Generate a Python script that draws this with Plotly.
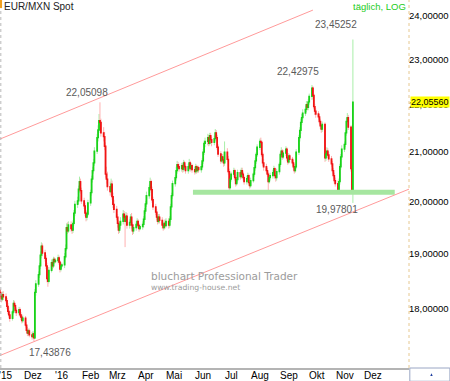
import math
import pandas as pd
import plotly.graph_objects as go

# ---------------- data ----------------
dates = pd.bdate_range("2015-10-26", "2016-11-09")

first_open = 18.34
closes = [
18.30,18.24,18.18,18.26,18.22, 18.15,18.05,17.96,17.90,17.84,
17.95,18.10,18.06,17.98,17.94, 17.99,17.90,17.86,17.80,17.84,
17.72,17.63,17.58,17.62,17.55, 17.52,17.57,17.50,18.30,18.45,
18.62,18.78,18.98,19.15,19.02, 18.92,18.78,18.55,18.50,18.70,
18.84,18.78,18.90,18.86,18.88, 18.93,18.85,18.72,18.78,18.80,
18.95,19.10,19.50,19.44,19.55, 19.48,19.45,19.58,19.78,19.95,
20.02,20.25,20.40,20.22,20.02, 19.92,19.78,19.70,19.76,19.98,
20.18,20.45,20.62,20.78,21.02, 21.30,21.46,21.66,21.62,21.40,
21.32,21.12,20.55,20.45,20.30, 20.20,20.35,20.10,19.95,19.85,
19.70,19.58,19.45,19.55,19.62, 19.76,19.70,19.62,19.72,19.55,
19.60,19.70,19.55,19.44,19.50, 19.56,19.62,19.54,19.48,19.52,
19.56,19.66,19.82,19.96,20.12, 20.28,20.40,20.24,20.04,19.90,
19.80,19.70,19.62,19.70,19.64, 19.55,19.50,19.58,19.54,19.62,
19.55,19.66,19.90,20.12,20.36, 20.48,20.62,20.74,20.70,20.66,
20.72,20.65,20.78,20.70,20.62, 20.70,20.78,20.66,20.72,20.64,
20.60,20.70,20.62,20.68,20.64, 20.70,20.82,21.00,21.18,21.22,
21.30,21.18,21.34,21.26,21.20, 21.28,21.40,21.30,21.10,20.96,
20.82,20.90,20.84,20.78,21.00, 20.85,20.60,20.28,20.45,20.55,
20.62,20.48,20.36,20.44,20.58, 20.50,20.62,20.55,20.48,20.40,
20.46,20.52,20.38,20.32,20.42, 20.55,20.68,20.82,20.95,21.10,
21.22,21.20,20.95,20.78,20.70, 20.62,20.55,20.40,20.48,20.52,
20.58,20.66,20.52,20.48,20.60, 20.75,20.95,21.02,20.90,20.98,
21.06,20.88,20.80,20.92,20.85, 20.78,20.70,20.62,20.70,21.00,
21.30,21.45,21.62,21.72,21.82, 21.90,22.00,21.94,22.06,22.18,
22.36,22.20,21.96,21.86,21.80, 21.74,21.64,21.55,21.48,21.58,
20.88,20.96,21.02,20.94,20.86, 20.76,20.62,20.52,20.42,20.36,
20.22,20.40,20.70,20.90,21.06, 21.16,21.40,21.64,21.72,21.52,
20.66,20.22,22.0556]

highs = [
18.40,18.35,18.29,18.31,18.32, 18.28,18.20,18.11,18.03,17.96,
17.99,18.16,18.15,18.10,18.03, 18.04,18.03,17.95,17.91,17.89,
17.88,17.77,17.69,17.66,17.66, 17.60,17.62,17.60,18.36,18.52,
18.68,18.84,19.05,19.22,19.20, 19.08,18.98,18.84,18.62,18.76,
18.90,18.88,18.95,18.94,18.92, 18.99,18.97,18.88,18.84,18.84,
19.02,19.18,19.58,19.60,19.62, 19.62,19.55,19.64,19.84,20.02,
20.10,20.32,20.50,20.46,20.28, 20.08,19.98,19.84,19.82,20.04,
20.24,20.52,20.70,20.86,21.10, 21.38,21.56,21.80,22.05098,21.70,
21.52,21.42,21.20,20.70,20.60, 20.40,20.46,20.42,20.18,20.04,
19.92,19.76,19.64,19.62,19.70, 19.84,19.82,19.76,19.80,19.78,
19.66,19.76,19.78,19.60,19.56, 19.62,19.68,19.66,19.58,19.56,
19.62,19.72,19.88,20.02,20.20, 20.34,20.48,20.44,20.30,20.10,
19.96,19.86,19.76,19.76,19.76, 19.70,19.60,19.64,19.66,19.68,
19.68,19.72,19.96,20.18,20.42, 20.54,20.70,20.82,20.80,20.76,
20.78,20.76,20.84,20.82,20.74, 20.76,20.86,20.82,20.78,20.76,
20.70,20.76,20.74,20.72,20.72, 20.76,20.88,21.06,21.24,21.30,
21.38,21.36,21.40,21.40,21.32, 21.34,21.48,21.46,21.36,21.16,
21.02,20.96,20.96,20.90,21.22, 21.08,20.92,20.66,20.50,20.60,
20.68,20.66,20.54,20.50,20.64, 20.64,20.68,20.68,20.60,20.52,
20.52,20.58,20.56,20.44,20.48, 20.60,20.74,20.88,21.00,21.16,
21.28,21.30,21.24,21.00,20.86, 20.76,20.68,20.60,20.54,20.58,
20.64,20.72,20.70,20.58,20.66, 20.80,21.00,21.10,21.06,21.04,
21.12,21.10,20.94,20.98,20.96, 20.90,20.84,20.76,20.76,21.06,
21.36,21.52,21.70,21.80,21.90, 21.98,22.08,22.06,22.12,22.24,
22.42975,22.40,22.24,22.02,21.92, 21.86,21.80,21.70,21.60,21.64,
21.62,21.02,21.10,21.08,21.00, 20.92,20.82,20.68,20.58,20.48,
20.42,20.46,20.76,20.96,21.14, 21.22,21.46,21.72,21.82,21.78,
21.56,20.72,23.45252]

lows = [
18.24,18.19,18.12,18.14,18.16, 18.10,18.00,17.91,17.85,17.78,
17.80,17.91,18.00,17.93,17.88, 17.89,17.86,17.81,17.75,17.76,
17.68,17.58,17.53,17.54,17.51, 17.47,17.49,17.43876,17.48,18.24,
18.40,18.56,18.72,18.92,18.96, 18.86,18.72,18.48,18.40,18.46,
18.66,18.72,18.74,18.82,18.83, 18.83,18.80,18.66,18.68,18.75,
18.74,18.90,19.06,19.38,19.40, 19.42,19.38,19.40,19.54,19.72,
19.88,19.96,20.18,20.16,19.96, 19.86,19.72,19.62,19.64,19.72,
19.92,20.12,20.38,20.56,20.72, 20.96,21.22,21.40,21.50,21.32,
21.22,21.04,20.48,20.36,20.22, 20.12,20.14,20.04,19.88,19.78,
19.64,19.50,19.38,19.40,19.48, 19.56,19.64,19.13,19.58,19.48,
19.48,19.54,19.48,19.36,19.38, 19.44,19.50,19.48,19.42,19.45,
19.46,19.50,19.60,19.76,19.90, 20.06,20.22,20.18,19.98,19.84,
19.74,19.64,19.56,19.58,19.58, 19.48,19.44,19.46,19.48,19.50,
19.48,19.50,19.60,19.84,20.06, 20.30,20.42,20.56,20.64,20.60,
20.60,20.58,20.60,20.64,20.56, 20.56,20.64,20.60,20.62,20.58,
20.54,20.56,20.56,20.58,20.58, 20.58,20.64,20.76,20.94,21.10,
21.14,21.12,21.14,21.20,21.12, 21.14,21.22,21.24,21.04,20.90,
20.76,20.78,20.78,20.70,20.72, 20.80,20.54,20.20,20.24,20.40,
20.50,20.42,20.30,20.32,20.38, 20.44,20.46,20.50,20.42,20.34,
20.34,20.40,20.32,20.26,20.28, 20.38,20.50,20.62,20.76,20.90,
21.04,21.12,20.90,20.72,20.62, 20.56,20.50,20.22,20.36,20.42,
20.46,20.52,20.46,20.40,20.42, 20.54,20.70,20.90,20.84,20.86,
20.92,20.82,20.74,20.76,20.78, 20.72,20.64,20.56,20.58,20.66,
20.94,21.22,21.38,21.56,21.66, 21.76,21.84,21.88,21.88,22.00,
22.10,22.12,21.90,21.78,21.72, 21.68,21.58,21.48,21.40,21.42,
20.80,20.82,20.90,20.88,20.80, 20.70,20.56,20.46,20.36,20.30,
20.18,20.18,20.34,20.64,20.84, 21.00,21.10,21.34,21.56,21.46,
20.60,20.18,19.97801]

opens = [first_open] + closes[:-1]

# trend channel (light red) and support line (green)
upper_dates = ["2015-10-26 12:00", "2016-09-27"]
upper_vals = [21.27, 24.14]
lower_dates = ["2015-10-26 12:00", "2017-01-08 08:00"]
lower_vals = [17.20, 20.25]
support_dates = ["2016-05-21", "2016-12-24"]
support_vals = [20.19, 20.19]

# extreme labels
extreme_dates = ["2016-02-11", "2016-09-26", "2016-11-09", "2016-11-09", "2015-12-02"]
extreme_vals = [22.05098, 22.42975, 23.45252, 19.97801, 17.43876]
extreme_text = ["22,05098", "22,42975", "23,45252", "19,97801", "17,43876"]
extreme_shift = [(-13, 10), (-14, 13), (-17, 15), (-16, -7), (16, -11)]

last_price = 22.0556
last_text = "22,05560"

month_ticks = ["2015-11-01", "2015-12-01", "2016-01-01", "2016-02-01", "2016-03-01",
               "2016-04-01", "2016-05-01", "2016-06-01", "2016-07-01", "2016-08-01",
               "2016-09-01", "2016-10-01", "2016-11-01", "2016-12-01"]
month_labels = ["'15", "Dez", "'16", "Feb", "Mrz", "Apr", "Mai", "Jun", "Jul", "Aug",
                "Sep", "Okt", "Nov", "Dez"]
y_ticks = [18, 19, 20, 21, 22, 23, 24]

x_range = ["2015-10-26 12:00", "2017-01-08 08:00"]
y_range = [16.99, 24.38]

# ---------------- figure ----------------
FONT = "Liberation Sans, Arial, sans-serif"
fig = go.Figure()

# pale wicks
fig.add_trace(go.Candlestick(
    x=dates, open=opens, high=highs, low=lows, close=closes,
    increasing=dict(line=dict(color="#a8eea8", width=1), fillcolor="#a8eea8"),
    decreasing=dict(line=dict(color="#ffb0b0", width=1), fillcolor="#ffb0b0"),
    whiskerwidth=0, hoverinfo="skip", showlegend=False))

# strong bodies
body_hi = [max(o, c) for o, c in zip(opens, closes)]
body_lo = [min(o, c) for o, c in zip(opens, closes)]
fig.add_trace(go.Candlestick(
    x=dates, open=opens, high=body_hi, low=body_lo, close=closes,
    increasing=dict(line=dict(color="#19d219", width=1.3), fillcolor="#19d219"),
    decreasing=dict(line=dict(color="#f01414", width=1.3), fillcolor="#f01414"),
    whiskerwidth=0, hoverinfo="skip", showlegend=False))

fig.add_trace(go.Scatter(x=support_dates, y=support_vals, mode="lines",
                         line=dict(color="#a6e6a0", width=5),
                         hoverinfo="skip", showlegend=False))
fig.add_trace(go.Scatter(x=upper_dates, y=upper_vals, mode="lines",
                         line=dict(color="#ff9a9a", width=1),
                         hoverinfo="skip", showlegend=False))
fig.add_trace(go.Scatter(x=lower_dates, y=lower_vals, mode="lines",
                         line=dict(color="#ff9a9a", width=1),
                         hoverinfo="skip", showlegend=False))

annotations = []
for d, v, t, (dx, dy) in zip(extreme_dates, extreme_vals, extreme_text, extreme_shift):
    annotations.append(dict(x=d, y=math.log10(v), xref="x", yref="y", text=t,
                            showarrow=False, xanchor="center", yanchor="middle",
                            xshift=dx, yshift=dy,
                            font=dict(family=FONT, size=10, color="#5a5a5a")))

# month labels placed just under the axis line
for d, t in zip(month_ticks, month_labels):
    annotations.append(dict(x=d, y=0, xref="x", yref="paper", text=t,
                            showarrow=False, xanchor="center", yanchor="top",
                            yshift=-1, borderpad=0,
                            font=dict(family=FONT, size=10, color="#000000")))

annotations.append(dict(x=1.0, y=math.log10(last_price), xref="paper", yref="y",
                        text=last_text, showarrow=False, xanchor="left", yanchor="middle",
                        xshift=1, bgcolor="#ffff00", borderpad=0,
                        font=dict(family=FONT, size=9, color="#000000")))
annotations.append(dict(x=0.006, y=1.0, xref="paper", yref="paper", text="EUR/MXN Spot",
                        showarrow=False, xanchor="left", yanchor="top", yshift=1,
                        font=dict(family=FONT, size=10, color="#222222")))
annotations.append(dict(x=0.998, y=1.0, xref="paper", yref="paper", text="täglich, LOG",
                        showarrow=False, xanchor="right", yanchor="top", yshift=1,
                        font=dict(family=FONT, size=9.5, color="#22cc22")))
annotations.append(dict(x=0.364, y=0.25, xref="paper", yref="paper",
                        text="bluchart Professional Trader", showarrow=False,
                        xanchor="left", yanchor="middle",
                        font=dict(family="DejaVu Sans, sans-serif", size=10.5, color="#9c9c9c")))
annotations.append(dict(x=0.364, y=0.22, xref="paper", yref="paper",
                        text="www.trading-house.net", showarrow=False,
                        xanchor="left", yanchor="middle",
                        font=dict(family="DejaVu Sans, sans-serif", size=7.7, color="#9c9c9c")))

shapes = [
    dict(type="line", xref="paper", yref="paper", x0=1.0, x1=1.0, y0=0, y1=1,
         line=dict(color="#e6c890", width=1, dash="dot")),
    dict(type="line", xref="paper", yref="paper", x0=0.002, x1=0.002, y0=0, y1=1,
         line=dict(color="#b8b8b8", width=1, dash="dot")),
    dict(type="rect", xref="paper", yref="paper", x0=0, x1=0.005, y0=0.978, y1=1.0,
         line=dict(width=0), fillcolor="#f0a020"),
    dict(type="rect", xref="paper", yref="paper", x0=1.002, x1=1.1, y0=-0.036, y1=0,
         line=dict(color="#9aa6c4", width=1), fillcolor="#ffffff"),
    dict(type="path", xref="paper", yref="paper",
         path="M 1.052 -0.022 L 1.058 -0.022 L 1.055 -0.014 Z",
         line=dict(width=0), fillcolor="#2040a0"),
]

fig.update_layout(
    width=450, height=381,
    margin=dict(l=0, r=41, t=0, b=13, pad=0),
    paper_bgcolor="#ffffff", plot_bgcolor="#ffffff",
    separators=",.",
    showlegend=False,
    annotations=annotations,
    shapes=shapes,
    font=dict(family=FONT, size=10, color="#000000"),
    xaxis=dict(type="date", range=x_range, tickmode="array", tickvals=month_ticks,
               showticklabels=False, showgrid=False, zeroline=False,
               showline=True, linecolor="#b4b4b4", linewidth=2, ticks="",
               rangeslider=dict(visible=False), fixedrange=True),
    yaxis=dict(type="log", side="right", range=[math.log10(y_range[0]), math.log10(y_range[1])],
               tickmode="array", tickvals=y_ticks, tickformat=".5f",
               showgrid=False, zeroline=False, showline=False,
               ticks="", ticklabelstandoff=-1,
               tickfont=dict(family=FONT, size=9.5, color="#000000"), fixedrange=True),
)

fig.write_html("out.html", config={"displayModeBar": False},
               post_script="document.body.style.margin='0px';")
